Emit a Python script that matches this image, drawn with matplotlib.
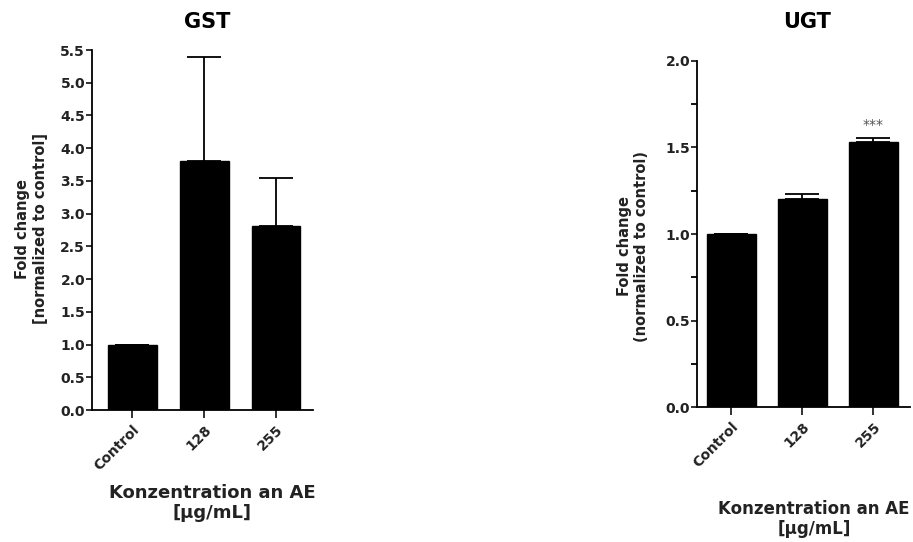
import numpy as np
from matplotlib import pyplot as plt

plt.rcParams['font.family'] = ['DejaVu Sans']

groups = ['Control', '128', '255']

gst_mean = [1.0, 3.81, 2.81]
gst_err = [0.0, 1.58, 0.74]

ugt_mean = [1.0, 1.205, 1.53]
ugt_err = [0.0, 0.026, 0.027]
ugt_sig = ['', '', '***']

xlabel = 'Konzentration an AE\n[µg/mL]'
txt = '#222222'


def style_axes(ax):
    ax.spines['top'].set_visible(False)
    ax.spines['right'].set_visible(False)
    ax.spines['left'].set_linewidth(1.3)
    ax.spines['bottom'].set_linewidth(1.3)
    ax.tick_params(axis='both', direction='out', width=1.3, labelsize=10, colors=txt, pad=1)
    ax.tick_params(axis='x', length=6, pad=3)
    ax.tick_params(axis='y', length=4)
    for lbl in ax.get_xticklabels() + ax.get_yticklabels():
        lbl.set_fontweight('bold')


def draw_bars(ax, means, errs, width):
    x = np.arange(len(groups))
    ax.bar(x, means, width=width, color='black', edgecolor='black', zorder=2)
    up = [np.zeros(len(errs)), errs]
    ax.errorbar(x, means, yerr=up, fmt='none', ecolor='black', elinewidth=1.3,
                capsize=12, capthick=1.3, zorder=1)
    ax.set_xticks(x)
    ax.set_xticklabels(groups, rotation=45, ha='right', rotation_mode='anchor')


fig = plt.figure(figsize=(9.13, 5.42), dpi=100)
W, H = 913.0, 542.0

# GST
ax1 = fig.add_axes([0.1008, 0.2435, 0.242, 0.6642])
draw_bars(ax1, gst_mean, gst_err, 0.68)
ax1.set_xlim(-0.5625, 2.514)
ax1.set_ylim(0, 5.5)
ax1.set_yticks(np.arange(0, 5.51, 0.5))
ax1.set_yticklabels([f'{v:.1f}' for v in np.arange(0, 5.51, 0.5)])
style_axes(ax1)
fig.text(207 / W, 1 - 22 / H, 'GST', fontsize=15, fontweight='bold', ha='center', va='center')
fig.text(31 / W, 1 - 229 / H, 'Fold change\n[normalized to control]', fontsize=10.5,
         fontweight='bold', color=txt, rotation=90, ha='center', va='center',
         multialignment='center', linespacing=1.25)
fig.text(212 / W, 1 - 503 / H, xlabel, fontsize=13, fontweight='bold', color=txt,
         ha='center', va='center', multialignment='center', linespacing=1.1)

# UGT
ax2 = fig.add_axes([0.7634, 0.249, 0.2333, 0.6385])
draw_bars(ax2, ugt_mean, ugt_err, 0.70)
for i, s in enumerate(ugt_sig):
    if s:
        ax2.text(i, ugt_mean[i] + ugt_err[i] + 0.035, s, ha='center', va='bottom',
                 fontsize=10, color='#555555')
ax2.set_xlim(-0.486, 2.514)
ax2.set_ylim(0, 2.0)
ax2.set_yticks([0.0, 0.5, 1.0, 1.5, 2.0])
ax2.set_yticklabels(['0.0', '0.5', '1.0', '1.5', '2.0'])
ax2.set_yticks(np.arange(0, 2.01, 0.25), minor=True)
ax2.tick_params(axis='y', which='minor', length=4, width=1.3)
style_axes(ax2)
fig.text(807 / W, 1 - 22 / H, 'UGT', fontsize=15, fontweight='bold', ha='center', va='center')
fig.text(633 / W, 1 - 246 / H, 'Fold change\n(normalized to control)', fontsize=10.5,
         fontweight='bold', color=txt, rotation=90, ha='center', va='center',
         multialignment='center', linespacing=1.25)
fig.text(814 / W, 1 - 519 / H, xlabel, fontsize=12, fontweight='bold', color=txt,
         ha='center', va='center', multialignment='center', linespacing=1.15)

fig.savefig('out.png', dpi=100)
